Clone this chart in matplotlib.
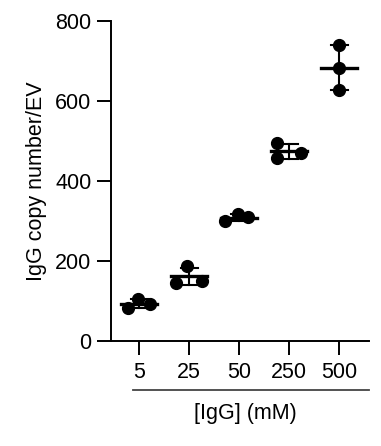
import numpy as np
import matplotlib
matplotlib.use('Agg')
import matplotlib.pyplot as plt

# Dados
concentracoes = ['5', '25', '50', '250', '500']
grupo_5 = [83, 104, 93]
grupo_25 = [146, 187, 151]
grupo_50 = [300, 317, 309]
grupo_250 = [494, 458, 471]
grupo_500 = [740, 683, 628]
grupos = [grupo_5, grupo_25, grupo_50, grupo_250, grupo_500]

# Deslocamento horizontal dos pontos (layout)
jitter = [
    [-0.22, -0.02, 0.22],
    [-0.26, -0.04, 0.26],
    [-0.28, -0.02, 0.18],
    [-0.24, -0.24, 0.24],
    [0.0, 0.0, 0.0],
]

plt.rcParams['font.family'] = ['Liberation Sans', 'DejaVu Sans']
plt.rcParams['font.size'] = 15.5

fig = plt.figure(figsize=(3.81, 4.46), dpi=100)
ax = fig.add_axes([111 / 381, 1 - 341 / 446, (369 - 111) / 381, (341 - 21) / 446])

for i, (valores, desl) in enumerate(zip(grupos, jitter)):
    valores = np.array(valores, dtype=float)
    media = valores.mean()
    dp = valores.std(ddof=1)
    ax.plot(i + np.array(desl), valores, 'o', color='black', markersize=8.5, zorder=3)
    # barra de erro (DP)
    ax.plot([i, i], [media - dp, media + dp], color='black', lw=1.5, zorder=4)
    for y in (media - dp, media + dp):
        ax.plot([i - 0.17, i + 0.17], [y, y], color='black', lw=1.5, zorder=4)
    # linha da média
    ax.plot([i - 0.36, i + 0.36], [media, media], color='black', lw=2.4, zorder=4)

ax.set_xlim(-0.56, 4.6)
ax.set_ylim(0, 800)
ax.set_yticks([0, 200, 400, 600, 800])
ax.set_xticks(range(len(concentracoes)))
ax.set_xticklabels(concentracoes)
ax.set_ylabel('IgG copy number/EV', labelpad=6)

for lado in ['top', 'right']:
    ax.spines[lado].set_visible(False)
for lado in ['left', 'bottom']:
    ax.spines[lado].set_linewidth(1.4)
ax.tick_params(axis='both', length=10, width=1.4, color='black')
ax.tick_params(axis='y', pad=4)
ax.tick_params(axis='x', pad=5)

# linha sob os rótulos e título do eixo x
ax.plot([-0.12, 4.6], [-0.153, -0.153], color='#444444', lw=1.3,
        transform=ax.get_xaxis_transform(), clip_on=False)
ax.text(2.12, -0.228, '[IgG] (mM)', ha='center', va='center',
        transform=ax.get_xaxis_transform())

fig.savefig('out.png', dpi=100)
